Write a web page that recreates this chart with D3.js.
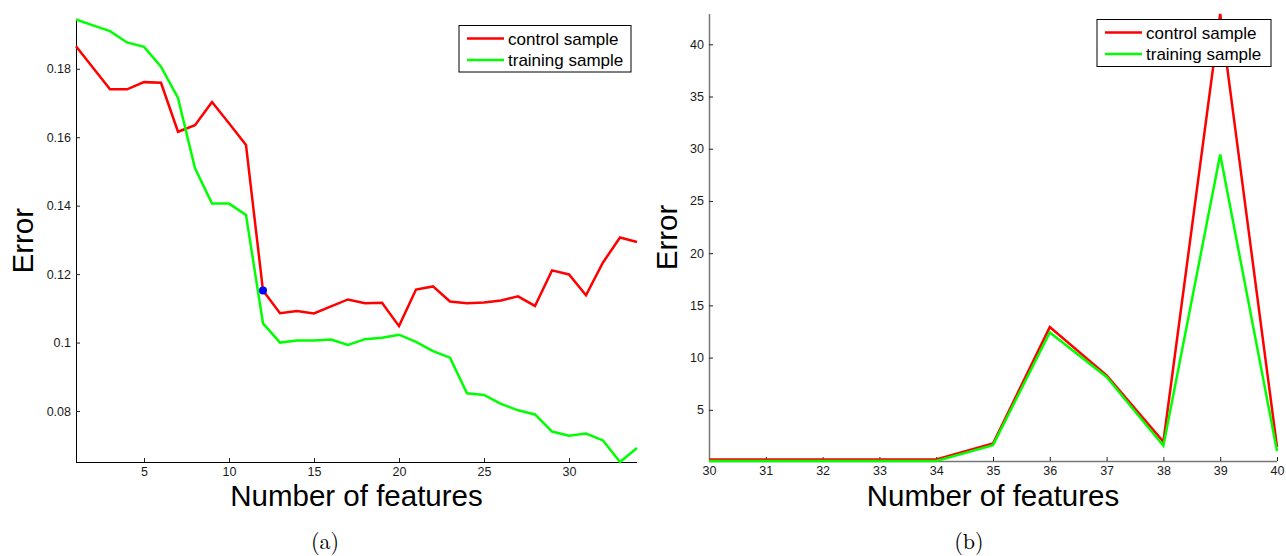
<!DOCTYPE html>
<html>
<head>
<meta charset="utf-8">
<script src="https://cdn.jsdelivr.net/npm/d3@7"></script>
<style>
  body { margin: 0; background: #fff; }
  svg { display: block; font-family: "Liberation Sans", Arial, sans-serif; }
</style>
</head>
<body>
<div id="chart"></div>
<script>
// (a) error vs number of features, 1..34
const featuresA = [1,2,3,4,5,6,7,8,9,10,11,12,13,14,15,16,17,18,19,20,21,22,23,24,25,26,27,28,29,30,31,32,33,34];
const controlA = [0.1866,0.1803,0.1740,0.1740,0.1761,0.1759,0.1616,0.1635,0.1703,0.1641,0.1577,0.1152,0.1086,0.1092,0.1085,0.1106,0.1126,0.1115,0.1116,0.1048,0.1155,0.1164,0.1120,0.1115,0.1117,0.1123,0.1135,0.1107,0.1211,0.1199,0.1138,0.1234,0.1307,0.1294];
const trainingA = [0.1944,0.1927,0.1910,0.1877,0.1864,0.1806,0.1715,0.1509,0.1406,0.1406,0.1373,0.1056,0.1000,0.1006,0.1006,0.1009,0.0993,0.1010,0.1014,0.1023,0.1002,0.0975,0.0956,0.0852,0.0847,0.0821,0.0802,0.0790,0.0740,0.0728,0.0734,0.0714,0.0651,0.0692];
const bestA = 12;
const xTicksA = [5,10,15,20,25,30];
const yTicksA = [0.08,0.1,0.12,0.14,0.16,0.18];

// (b) error vs number of features, 30..40
const featuresB = [30,31,32,33,34,35,36,37,38,39,40];
const controlB = [0.25,0.25,0.25,0.25,0.25,1.78,12.92,8.3,1.94,42.9,1.45];
const trainingB = [0.1,0.1,0.1,0.1,0.1,1.62,12.4,8.15,1.56,29.45,1.05];
const xTicksB = [30,31,32,33,34,35,36,37,38,39,40];
const yTicksB = [5,10,15,20,25,30,35,40];

const seriesNames = ["control sample", "training sample"];
const seriesColors = ["#ff0000", "#00ff00"];

const width = 1286, height = 556;
const svg = d3.select("#chart").append("svg")
    .attr("width", width)
    .attr("height", height);

function drawPanel(opt) {
    const x = d3.scaleLinear().domain(opt.xDomain).range([opt.left, opt.right]);
    const y = d3.scaleLinear().domain(opt.yDomain).range([opt.bottom, opt.top]);
    const g = svg.append("g");

    const xAxis = g.append("g")
        .attr("transform", `translate(0,${opt.bottom})`)
        .call(d3.axisBottom(x).tickValues(opt.xTicks).tickSize(-4).tickPadding(5)
            .tickFormat(d => String(d)));
    const yAxis = g.append("g")
        .attr("transform", `translate(${opt.left},0)`)
        .call(d3.axisLeft(y).tickValues(opt.yTicks).tickSize(-4).tickPadding(5)
            .tickFormat(d => String(+d.toFixed(2))));

    [xAxis, yAxis].forEach(a => {
        a.select(".domain").attr("stroke", opt.axisColor).attr("stroke-width", opt.axisWidth);
        a.selectAll(".tick line").attr("stroke", "#222");
        a.selectAll(".tick text").attr("fill", "#1a1a1a")
            .style("font-size", "12.5px")
            .style("font-family", "'Liberation Sans', Arial, sans-serif");
    });
    // MATLAB-style axis: domain path without end caps
    xAxis.select(".domain").attr("d", `M${opt.left},0.5H${opt.right}`);
    yAxis.select(".domain").attr("d", `M0.5,${opt.bottom}V${opt.top}`);

    const line = d3.line().x(d => x(d[0])).y(d => y(d[1]));
    opt.series.forEach((s, i) => {
        g.append("path")
            .datum(opt.xs.map((v, k) => [v, s[k]]))
            .attr("fill", "none")
            .attr("stroke", seriesColors[i])
            .attr("stroke-width", 2.5)
            .attr("stroke-linejoin", "miter")
            .attr("d", line);
    });

    if (opt.marker) {
        const k = opt.xs.indexOf(opt.marker);
        g.append("circle")
            .attr("cx", x(opt.xs[k]))
            .attr("cy", y(opt.series[0][k]))
            .attr("r", 4)
            .attr("fill", "#0000ff");
    }

    // legend
    const lg = g.append("g");
    lg.append("rect")
        .attr("x", opt.legend.x).attr("y", opt.legend.y)
        .attr("width", opt.legend.w).attr("height", opt.legend.h)
        .attr("fill", "#fff").attr("stroke", "#000").attr("stroke-width", 1);
    seriesNames.forEach((name, i) => {
        const ly = opt.legend.y + 13 + i * 21.5;
        lg.append("line")
            .attr("x1", opt.legend.x + 8).attr("x2", opt.legend.x + 45)
            .attr("y1", ly).attr("y2", ly)
            .attr("stroke", seriesColors[i]).attr("stroke-width", 2.5);
        lg.append("text")
            .attr("x", opt.legend.x + 49).attr("y", ly + 6)
            .attr("fill", "#000")
            .style("font-size", "17px")
            .text(name);
    });

    // axis titles
    g.append("text")
        .attr("x", (opt.left + opt.right) / 2).attr("y", 506)
        .attr("text-anchor", "middle")
        .style("font-size", "29.5px")
        .text("Number of features");
    g.append("text")
        .attr("transform", `translate(${opt.yLabelX},${(opt.top + opt.bottom) / 2}) rotate(-90)`)
        .attr("text-anchor", "middle")
        .style("font-size", "29.5px")
        .text("Error");

    g.append("text")
        .attr("x", opt.captionX).attr("y", 549)
        .attr("text-anchor", "middle")
        .style("font-family", "'Latin Modern Roman', 'Liberation Serif', serif")
        .style("font-size", "22px")
        .text(opt.caption);
}

drawPanel({
    xs: featuresA, series: [controlA, trainingA], marker: bestA,
    xDomain: [1, 34], yDomain: [0.0651, 0.1944],
    left: 76, right: 637, top: 19.5, bottom: 462,
    xTicks: xTicksA, yTicks: yTicksA,
    axisColor: "#000", axisWidth: 1,
    legend: { x: 459, y: 25.5, w: 172, h: 46.5 },
    yLabelX: 33, captionX: 325, caption: "(a)"
});

drawPanel({
    xs: featuresB, series: [controlB, trainingB], marker: null,
    xDomain: [30, 40], yDomain: [0.1, 42.9],
    left: 709, right: 1277, top: 14, bottom: 461,
    xTicks: xTicksB, yTicks: yTicksB,
    axisColor: "#777", axisWidth: 1.5,
    legend: { x: 1097, y: 19.5, w: 174, h: 47 },
    yLabelX: 677, captionX: 969, caption: "(b)"
});
</script>
</body>
</html>
